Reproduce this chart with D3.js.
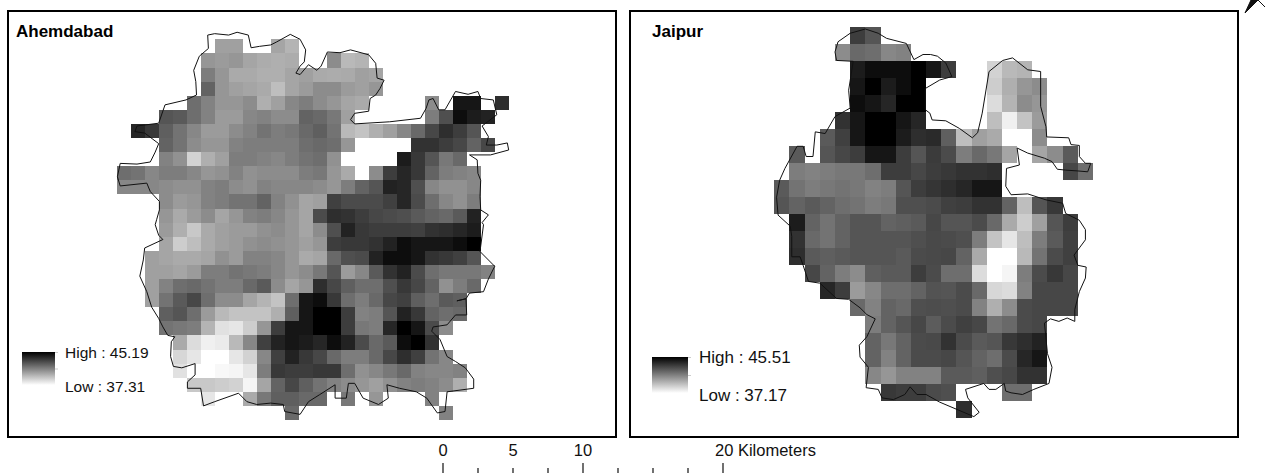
<!DOCTYPE html>
<html>
<head>
<meta charset="utf-8">
<script src="https://cdn.jsdelivr.net/npm/d3@7/dist/d3.min.js"></script>
<style>
  html, body { margin: 0; padding: 0; background: #fff; }
  svg { display: block; font-family: "Liberation Sans", Arial, sans-serif; fill: #111; }
</style>
</head>
<body>
<svg id="map" width="1265" height="473"></svg>
<script>
'use strict';

const _ = null;

// raster rows: first number is the starting column,
// the rest is brightness per cell (255 = Low end of the stretch, 0 = High end)
const ahmedabadRows = [
  [7, 160,160,_,_,165,180],
  [6, 150,155,150,165,172,175,172,_,_,140,185,180],
  [6, 125,150,170,170,175,175,165,160,170,172,170,160,165],
  [6, 100,150,160,165,170,190,165,155,140,140,155,160,150],
  [5, 110,130,150,150,140,175,160,135,125,140,150,165,170,_,_,_,_,140,_,20,20,_,45],
  [3, 85,90,110,130,155,155,135,130,140,140,100,105,120,160,_,_,_,_,_,125,80,15,30,35],
  [1, 40,55,95,115,135,155,155,140,130,115,125,120,105,95,115,185,195,175,160,135,105,70,45,60,85],
  [3, 100,115,140,150,150,130,125,125,125,125,110,105,110,150,255,255,255,255,50,50,60,70,100,70],
  [3, 130,145,210,175,160,125,125,130,135,125,115,110,145,255,255,255,255,30,55,85,120,105],
  [0, 110,115,135,125,125,135,150,145,130,145,140,140,140,125,120,150,170,255,140,60,40,55,100,125,130,135],
  [0, 135,135,135,140,145,145,130,125,140,145,130,135,135,135,140,150,125,100,85,35,40,80,135,145,145,135],
  [3, 140,155,150,130,125,115,115,100,130,145,165,160,65,75,75,75,65,40,75,110,135,145,125],
  [3, 150,170,155,140,165,150,130,125,135,150,165,75,45,50,60,70,75,80,90,100,105,90,35],
  [3, 155,175,200,170,160,155,155,145,140,150,165,140,80,35,55,60,60,60,65,50,45,40,30],
  [3, 165,205,190,170,160,155,145,140,145,150,160,150,60,55,55,50,35,10,25,25,20,15,0],
  [2, 160,165,170,170,165,145,155,130,130,135,150,170,165,105,80,75,35,15,10,20,50,55,65,85],
  [2, 160,160,165,155,125,125,115,120,125,135,150,140,120,85,155,135,90,50,35,75,110,120,120,120,130],
  [2, 160,130,110,105,115,125,125,105,90,140,165,150,45,70,95,110,110,80,55,70,100,145,125,105],
  [2, 160,115,90,70,110,140,140,165,180,195,110,25,15,55,110,125,105,70,65,95,110,90,95],
  [3, 95,85,110,155,185,195,195,195,175,95,25,0,0,60,130,125,85,35,55,100,110,105],
  [3, 115,120,125,180,225,230,205,150,60,25,20,0,5,60,120,125,40,0,20,75,140],
  [4, 170,220,240,235,185,135,65,35,25,30,40,15,35,75,105,90,15,5,50],
  [4, 215,230,255,255,230,210,135,65,35,55,70,105,125,125,105,70,45,65,115,135],
  [4, 225,255,255,248,245,230,125,55,60,60,55,55,110,145,135,120,105,130,135,135,130],
  [5, 200,200,205,210,245,165,100,70,95,115,130,140,150,160,145,130,125,130,140,175],
  [6, 230,255,255,170,120,95,95,105,105,_,120,_,150,_,_,_,130],
  [12, 105,_,_,_,_,_,_,_,_,_,_,130]
];

const jaipurRows = [
  [5, 60,85],
  [4, 140,105,110,135,130],
  [5, 30,10,15,15,0,20,60,_,_,210,185,180],
  [5, 20,5,30,10,5,_,_,_,_,205,175,150,140],
  [5, 15,25,40,5,5,_,_,_,_,220,180,140,150],
  [4, 50,25,0,0,25,40,_,_,_,_,190,240,195,155],
  [3, 90,65,25,0,0,30,45,42,95,190,160,170,255,255,140],
  [1, 90,_,85,70,60,25,20,60,85,58,75,125,105,120,165,255,165,140,90],
  [1, 125,130,125,120,120,110,60,60,70,62,55,50,50,45,_,_,_,_,70,110],
  [0, 90,115,125,120,115,120,130,125,85,60,52,45,40,25,25],
  [0, 85,100,90,100,110,115,125,120,80,80,75,65,60,50,50,100,190,85,55],
  [1, 30,100,115,100,85,85,100,95,90,70,85,85,75,105,170,205,160,85,60],
  [1, 50,105,115,100,85,85,85,85,80,72,75,80,125,195,230,190,125,90,65],
  [1, 45,90,95,90,85,85,85,90,75,72,70,100,170,255,255,185,115,75,65],
  [2, 70,100,125,140,95,90,90,60,75,110,110,220,255,245,125,75,55,70],
  [3, 40,60,155,135,110,110,100,82,85,75,105,215,220,130,70,70,70],
  [5, 105,130,100,105,80,78,80,75,130,175,140,75,70,70,70],
  [6, 125,100,85,70,92,75,65,70,115,105,75,70],
  [6, 100,120,100,75,72,50,75,90,85,55,45,35],
  [6, 100,130,100,75,75,70,85,100,110,75,40,25],
  [6, 135,150,130,130,130,90,90,95,80,70,50,50],
  [7, 55,60,60,75,80,_,_,_,110,110],
  [12, 45]
];

// city boundaries in raster cell units (column, row)
const ahmedabadBoundary = [
  [6.5,-0.3],[7,-0.4],[8,-0.3],[8.6,-0.5],[9.4,-0.3],[9.6,0.6],[10.2,0.5],[11,0.4],[11.4,0.2],[12.4,-0.35],[13.1,0],
  [13.5,0.75],[13.4,1.6],[13.1,1.9],[12.8,2.4],[13.1,2.5],[13.7,1.8],[14.3,2.2],[14.6,1.9],[15.05,0.9],[15.95,0.95],
  [16.7,0.75],[18,1.1],[18.5,1.7],[18.6,2.75],[19.1,2.9],[18.8,3.5],[18.5,3.95],[18.1,4.2],[18,5.1],[17,5.25],[16.7,5.7],
  [17,6],[19.5,5.85],[21.7,5.6],[22.1,4.9],[22.3,4.3],[22.6,4.2],[23,5],[23.45,5],[24.2,3.7],[25.1,3.9],[25.8,3.7],[26,4.2],
  [26.9,4.3],[27.15,5.35],[26.1,6.15],[26.55,6.9],[26.4,7.5],[27.15,7.5],[27.9,7.35],[28,7.85],[26.7,8.2],[25.2,8.2],
  [25.75,8.55],[25.8,9.5],[26,10],[25.95,11.15],[26,12.1],[26.55,12.45],[26.1,13],[26.2,13.15],[25.95,15.05],[27,16.1],
  [26.55,17],[26.2,17.9],[25.2,18],[24.95,18.4],[24.3,18.55],[24.95,18.4],[25,19.55],[24.2,19.55],[23.6,20.25],[22.6,20.4],
  [22.5,20.7],[23.1,21.3],[23.6,22.5],[24.2,22.85],[24.9,23.3],[25.5,24.1],[25.5,24.75],[23.6,25],[23.45,26.4],[22.9,26.5],
  [22.15,25.45],[21.4,25],[20.2,24.75],[19.3,24.5],[19.4,25.45],[18.7,25.9],[17.6,25.45],[17,24.4],[16.55,24.4],[16.4,25.45],
  [15.6,25.45],[15.6,24.5],[14.5,25.2],[13.7,25.7],[13.1,26.6],[12,26.4],[11.9,25.9],[11,25.8],[10,25.9],[9.3,25.7],[8.7,25.1],
  [7,25.7],[6.2,26],[6,24.75],[5.05,24.75],[5.05,24.3],[5.6,23.8],[5.6,23],[4.65,23.3],[4.05,23.2],[3.85,22.5],[3.9,21.45],
  [4.15,21.1],[3.65,21],[3.3,20.4],[3,19.8],[2.5,19],[2.15,17.9],[1.65,16.8],[1.9,15.65],[2,14.8],[3.3,14.2],[3,13.9],
  [2.75,13.15],[2.85,12.8],[3.05,12.1],[3.05,11.5],[2.4,10.8],[2.15,10.2],[0.25,10.4],[0.05,9.75],[0.25,8.8],[1.45,8.85],
  [2.4,8.7],[2.75,8],[3,7.4],[2,6.65],[1.3,6.55],[1.45,6.15],[3,5.95],[3.45,4.65],[4.95,4.3],[5.7,3.95],[5.65,3],[5.5,2.2],
  [5.9,1.2],[6.55,0.65],[6.5,-0.3]
];

const jaipurBoundary = [
  [5,0.35],[6,0.1],[6.85,0.35],[7.4,0.65],[8.7,0.95],[9.2,1.9],[9.8,1.6],[10.3,1.6],[10.75,1.7],[11.3,2.1],[11.7,2.9],
  [10.9,3.1],[9.95,3.6],[9.95,4.85],[10.25,5.05],[10.4,5.45],[11.3,5.5],[12.2,5.95],[13.05,6.5],[13.4,6.2],[13.7,5.05],
  [14.15,2.6],[15.05,1.95],[15.7,1.8],[16.7,2.5],[17.55,2.6],[17.55,4.65],[17.9,5.85],[17.95,6.45],[19.4,6.5],[19.55,6.9],
  [20.1,6.95],[20.1,7.6],[20.5,8],[20.85,8],[20.65,8.5],[20,8.45],[19.2,8.4],[18.65,8.35],[18.3,7.9],[17.8,7.7],[16.7,7.4],
  [16,7.1],[16.15,8.1],[15.3,8.3],[15.25,9.35],[15.6,9.85],[16.7,9.8],[17.9,10.15],[19,10.35],[19.2,10.95],[20.1,11.35],
  [20.5,11.9],[20.5,12.5],[19.75,13.4],[20,14],[20.55,14.1],[20.5,14.75],[20.1,15.55],[19.8,16.6],[19.8,17.3],[19.3,17.1],
  [18.75,17.3],[18.2,17.15],[17.8,17.4],[18,19.2],[18.3,20],[18.1,20.95],[17.1,21.3],[16.35,21.6],[15.6,21.5],[15.25,21.4],
  [15.15,20.95],[14.6,21.3],[14.15,21.3],[13.8,20.95],[12.6,21.3],[12.75,21.8],[13.5,22.65],[13.15,22.9],[10.9,22.05],
  [10,21.6],[9.4,21.6],[8.95,21.15],[8.6,21.6],[7.85,21.9],[7.1,21.8],[6.85,21.3],[6.05,21.2],[6.2,20],[5.65,19.4],[5.6,18.7],
  [6.1,18.2],[6.65,17.15],[6.1,16.9],[5.65,16.5],[4.9,16],[4.1,15.95],[3,15.05],[2.25,14.95],[1.9,14],[1.7,13.5],[1.15,13.5],
  [1.15,12.3],[1.05,11.7],[0.25,11.05],[0.15,10],[0.35,9],[0.7,8.3],[1.5,7],[1.9,7],[2.1,7.6],[2.55,7.6],[2.7,6.15],[3.35,6.25],
  [4,5.25],[5,4.75],[4.9,3.7],[5.2,2],[4.1,1.95],[4,1.45],[4.2,0.85],[5,0.35]
];

const scaleKm = [0, 2.5, 5, 7.5, 10, 12.5, 15, 17.5, 20];
const scaleLabels = [0, 5, 10];

const panels = [
  {
    name: "Ahemdabad", rows: ahmedabadRows, boundary: ahmedabadBoundary, low: 37.31, high: 45.19,
    frame: [8, 11, 616, 437], nameX: 16,
    x: d3.scaleLinear().domain([0, 28]).range([116.7, 508.7]),
    y: d3.scaleLinear().domain([0, 27]).range([39.3, 420]),
    legend: { x: 22, y: 352, w: 33, h: 33, textX: 65, highY: 358, lowY: 392, size: 15.5 }
  },
  {
    name: "Jaipur", rows: jaipurRows, boundary: jaipurBoundary, low: 37.17, high: 45.51,
    frame: [630, 11, 1238, 437], nameX: 652,
    x: d3.scaleLinear().domain([0, 21]).range([774.3, 1093]),
    y: d3.scaleLinear().domain([0, 23]).range([27.3, 418.3]),
    legend: { x: 652, y: 357, w: 36, h: 36, textX: 699, highY: 363, lowY: 401, size: 17 }
  }
];

let svg = d3.select("#map");
let defs = svg.append("defs");

// the source raster is slightly soft
defs.append("filter")
  .attr("id", "soft")
  .append("feGaussianBlur")
  .attr("stdDeviation", 0.5);

panels.forEach((p, i) => {
  let color = d3.scaleLinear().domain([p.low, p.high]).range(["#fff", "#000"]);

  // flatten the rows into cells with a temperature each
  let cells = [];
  p.rows.forEach((row, r) => {
    row.slice(1).forEach((b, k) => {
      if (b === null) return;
      cells.push({ col: row[0] + k, row: r, value: p.high - b / 255 * (p.high - p.low) });
    });
  });

  let g = svg.append("g");

  g.append("g")
    .attr("shape-rendering", "crispEdges")
    .attr("filter", "url(#soft)")
    .selectAll("rect")
    .data(cells)
    .join("rect")
      .attr("x", d => p.x(d.col))
      .attr("y", d => p.y(d.row))
      .attr("width", d => p.x(d.col + 1) - p.x(d.col))
      .attr("height", d => p.y(d.row + 1) - p.y(d.row))
      .attr("fill", d => color(d.value));

  let line = d3.line().x(d => p.x(d[0])).y(d => p.y(d[1])).curve(d3.curveLinear);

  g.append("path")
    .attr("d", line(p.boundary))
    .attr("fill", "none")
    .attr("stroke", "#111")
    .attr("stroke-width", 1);

  g.append("rect")
    .attr("x", p.frame[0])
    .attr("y", p.frame[1])
    .attr("width", p.frame[2] - p.frame[0])
    .attr("height", p.frame[3] - p.frame[1])
    .attr("fill", "none")
    .attr("stroke", "#000")
    .attr("stroke-width", 2);

  g.append("text")
    .attr("x", p.nameX)
    .attr("y", 37)
    .attr("font-size", 17)
    .attr("font-weight", "bold")
    .attr("fill", "#000")
    .text(p.name);

  // legend ramp
  let id = "ramp" + i;
  let grad = defs.append("linearGradient")
    .attr("id", id)
    .attr("x1", 0).attr("y1", 0).attr("x2", 0).attr("y2", 1);
  grad.append("stop").attr("offset", "0%").attr("stop-color", color(p.high));
  grad.append("stop").attr("offset", "100%").attr("stop-color", color(p.low));

  let lg = p.legend;
  g.append("rect")
    .attr("x", lg.x).attr("y", lg.y)
    .attr("width", lg.w).attr("height", lg.h)
    .attr("fill", `url(#${id})`);

  // faint legend ticks
  g.append("g")
    .attr("stroke", "#ccc")
    .selectAll("line")
    .data([0, 0.5])
    .join("line")
      .attr("x1", lg.x + lg.w)
      .attr("x2", lg.x + lg.w + 3)
      .attr("y1", d => lg.y + d * lg.h + 0.5)
      .attr("y2", d => lg.y + d * lg.h + 0.5);

  [[p.high, "High", lg.highY], [p.low, "Low", lg.lowY]].forEach(t => {
    g.append("text")
      .attr("x", lg.textX)
      .attr("y", t[2])
      .attr("font-size", lg.size)
      .text(`${t[1]} : ${t[0].toFixed(2)}`);
  });
});

// scale bar
let km = d3.scaleLinear().domain([0, 20]).range([443, 723]);

svg.append("g")
  .attr("stroke", "#111")
  .attr("stroke-width", 1.2)
  .selectAll("line")
  .data(scaleKm)
  .join("line")
    .attr("x1", d => km(d))
    .attr("x2", d => km(d))
    .attr("y1", d => d % 10 === 0 ? 463 : 468)
    .attr("y2", 473);

svg.append("g")
  .attr("font-size", 16.5)
  .attr("text-anchor", "middle")
  .selectAll("text")
  .data(scaleLabels)
  .join("text")
    .attr("x", d => km(d))
    .attr("y", 456)
    .text(d => d);

svg.append("text")
  .attr("x", km(20) - 8)
  .attr("y", 456)
  .attr("font-size", 16.5)
  .text("20 Kilometers");

// north arrow, cut off by the page edge
svg.append("path")
  .attr("d", "M1245,13L1251,0L1258,0Z M1258,0L1265,7")
  .attr("fill", "#111")
  .attr("stroke", "#111")
  .attr("stroke-width", 1);
</script>
</body>
</html>
